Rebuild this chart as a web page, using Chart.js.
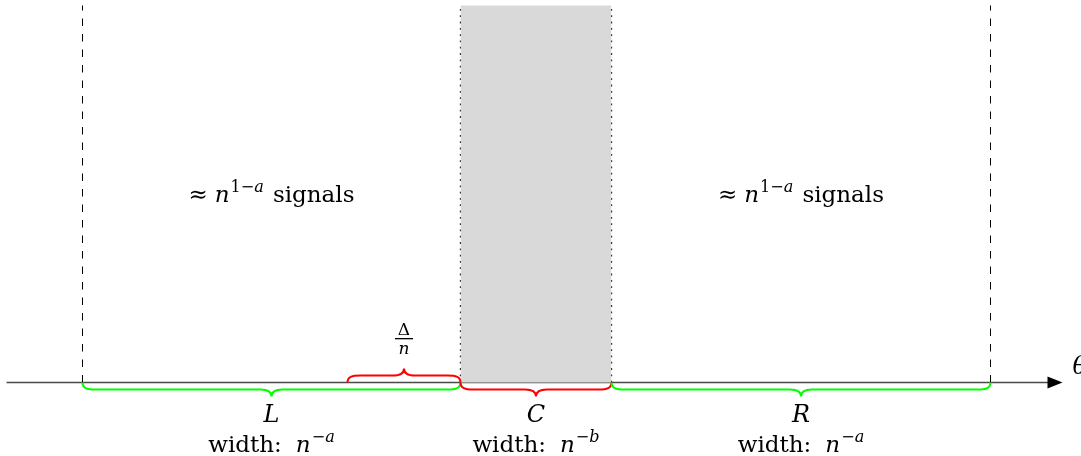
<!DOCTYPE html>
<html>
<head>
<meta charset="utf-8">
<script src="https://cdn.jsdelivr.net/npm/chart.js@4/dist/chart.umd.min.js"></script>
<style>
  html, body { margin: 0; padding: 0; background: #fff; }
  #wrap { width: 1081px; height: 456px; position: relative; }
</style>
</head>
<body>
<div id="wrap"><canvas id="diagram"></canvas></div>
<script>
// diagram units = picture pixels, y counted downward
const edges = [82, 460, 611, 990]          // L start, C start, C end, R end
const axisRange = [6, 1062]
const axisY = 382
const topY = 5
const regionNames = ['L', 'C', 'R']
const regionExps = ['a', 'b', 'a']
const regionColors = ['#00ff00', '#ff0000', '#00ff00']
const signalRegions = [0, 2]               // regions with "≈ n^{1-a} signals"
const gapBrace = [347, 460]                // Δ/n brace above the axis

const serif = '"DejaVu Serif", "Liberation Serif", serif'

function vline(x, dash, width) {
  return {
    data: [{ x: x, y: axisY }, { x: x, y: topY }],
    showLine: true, borderColor: '#000', borderWidth: width,
    borderDash: dash, pointRadius: 0, fill: false
  }
}

const datasets = [
  {
    // shaded central region C
    data: [{ x: edges[1], y: topY }, { x: edges[2], y: topY }],
    showLine: true, borderWidth: 0, pointRadius: 0,
    backgroundColor: '#d9d9d9', fill: { value: axisY }
  },
  vline(edges[1], [1.8, 4.5], 1.3),
  vline(edges[2], [1.8, 4.5], 1.3),
  vline(edges[0], [7.5, 8], 1),
  vline(edges[3], [7.5, 8], 1),
  {
    // theta axis
    data: [{ x: axisRange[0], y: axisY }, { x: axisRange[1] - 12, y: axisY }],
    showLine: true, borderColor: '#4a4a4a', borderWidth: 1.4, pointRadius: 0, fill: false
  }
]

// text runs: {t, it (italic), sup (superscript), gap (extra space before)}
function drawRuns(ctx, runs, cx, base, size) {
  function font(r) {
    let s = r.sup ? size * 0.7 : size
    return (r.it ? 'italic ' : '') + s + 'px ' + serif
  }
  let total = 0
  runs.forEach(r => { ctx.font = font(r); total += ctx.measureText(r.t).width + (r.gap || 0) })
  let x = cx - total / 2
  runs.forEach(r => {
    ctx.font = font(r)
    x += r.gap || 0
    ctx.fillText(r.t, x, r.sup ? base - size * 0.42 : base)
    x += ctx.measureText(r.t).width
  })
}

function brace(ctx, x1, x2, y, dir, color) {
  let h = 7 * dir, amp = 14 * dir, w = 13, w2 = 11, m = (x1 + x2) / 2
  ctx.beginPath()
  ctx.moveTo(x1, y)
  ctx.bezierCurveTo(x1, y + h * 0.8, x1 + w * 0.35, y + h, x1 + w, y + h)
  ctx.lineTo(m - w2, y + h)
  ctx.bezierCurveTo(m - w2 * 0.4, y + h, m, y + h + (amp - h) * 0.3, m, y + amp)
  ctx.bezierCurveTo(m, y + h + (amp - h) * 0.3, m + w2 * 0.4, y + h, m + w2, y + h)
  ctx.lineTo(x2 - w, y + h)
  ctx.bezierCurveTo(x2 - w * 0.35, y + h, x2, y + h * 0.8, x2, y)
  ctx.strokeStyle = color
  ctx.lineWidth = 2
  ctx.stroke()
}

const annotations = {
  id: 'annotations',
  afterDatasetsDraw(chart) {
    const ctx = chart.ctx
    const X = v => chart.scales.x.getPixelForValue(v)
    const Y = v => chart.scales.y.getPixelForValue(v)
    ctx.save()
    ctx.fillStyle = '#000'
    ctx.textBaseline = 'alphabetic'

    // arrow head
    let tip = X(axisRange[1]), ay = Y(axisY)
    ctx.beginPath()
    ctx.moveTo(tip, ay)
    ctx.lineTo(tip - 15, ay - 6)
    ctx.lineTo(tip - 15, ay + 6)
    ctx.closePath()
    ctx.fill()
    ctx.font = 'italic 24px ' + serif
    ctx.textAlign = 'left'
    ctx.fillText('θ', tip + 10, Y(373))

    // braces under the axis + region labels
    regionNames.forEach((name, i) => {
      let a = X(edges[i]), b = X(edges[i + 1]), m = (a + b) / 2
      brace(ctx, a, b, ay, 1, regionColors[i])
      drawRuns(ctx, [{ t: name, it: true }], m, Y(421), 24)
      drawRuns(ctx, [{ t: 'width:' }, { t: 'n', it: true, gap: 14 },
        { t: '−', sup: true, gap: 1 }, { t: regionExps[i], it: true, sup: true }], m, Y(451), 23)
    })

    // gap brace above the axis with Δ/n
    let g1 = X(gapBrace[0]), g2 = X(gapBrace[1]), gm = (g1 + g2) / 2
    brace(ctx, g1, g2, ay, -1, '#ff0000')
    ctx.textAlign = 'center'
    ctx.font = '17px ' + serif
    ctx.fillText('Δ', gm, Y(334))
    ctx.font = 'italic 17px ' + serif
    ctx.fillText('n', gm, Y(353))
    ctx.fillRect(gm - 9, Y(337.5), 18, 1.3)
    ctx.textAlign = 'left'

    // signal counts
    signalRegions.forEach(i => {
      let m = (X(edges[i]) + X(edges[i + 1])) / 2
      drawRuns(ctx, [{ t: '≈' }, { t: 'n', it: true, gap: 7 }, { t: '1−', sup: true, gap: 1 },
        { t: 'a', it: true, sup: true }, { t: 'signals', gap: 9 }], m, Y(201), 23)
    })
    ctx.restore()
  }
}

new Chart(document.getElementById('diagram'), {
  type: 'scatter',
  data: { datasets: datasets },
  options: {
    responsive: true,
    maintainAspectRatio: false,
    animation: false,
    layout: { padding: 0 },
    scales: {
      x: { type: 'linear', min: -0.5, max: 1080.5, display: false },
      y: { type: 'linear', min: -0.5, max: 455.5, reverse: true, display: false }
    },
    plugins: { legend: { display: false }, tooltip: { enabled: false } }
  },
  plugins: [annotations]
})
</script>
</body>
</html>
